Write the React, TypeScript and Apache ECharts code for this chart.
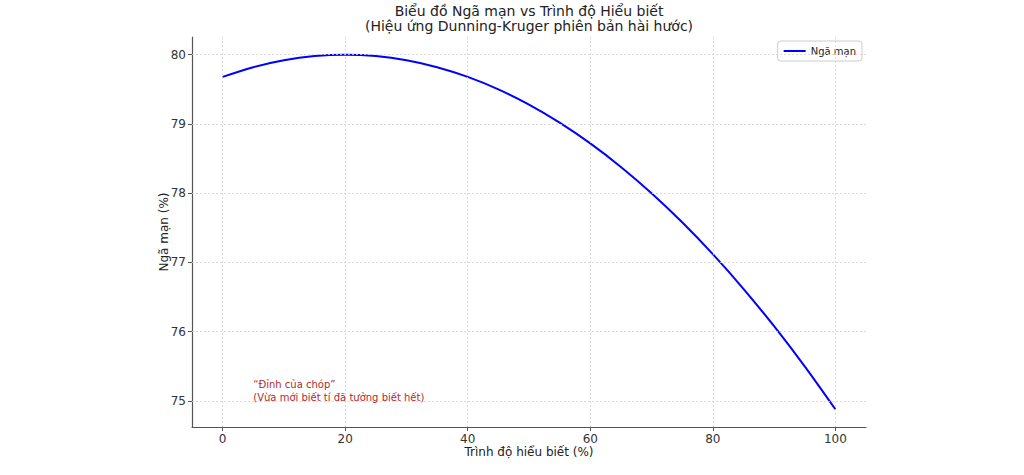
import React, { useEffect, useRef } from "react";
import * as echarts from "echarts";

const knowledge = [0, 5, 10, 15, 20, 25, 30, 35, 40, 45, 50, 55, 60, 65, 70, 75, 80, 85, 90, 95, 100];
const arrogance = [79.68, 79.82, 79.92, 79.98, 80.0, 79.98, 79.92, 79.82, 79.68, 79.5, 79.28, 79.02, 78.72, 78.38, 78.0, 77.58, 77.12, 76.62, 76.08, 75.5, 74.88];
const xTicks = [0, 20, 40, 60, 80, 100];
const yTicks = [75, 76, 77, 78, 79, 80];
const seriesName = "Ngã mạn";
const titleText = "Biểu đồ Ngã mạn vs Trình độ Hiểu biết\n(Hiệu ứng Dunning-Kruger phiên bản hài hước)";
const noteText = "“Đỉnh của chóp”\n(Vừa mới biết tí đã tưởng biết hết)";
const notePoint = [5, 75];

const FONT = "DejaVu Sans";

export default function App() {
  const ref = useRef<HTMLDivElement>(null);
  useEffect(() => {
    if (!ref.current) return;
    const chart = echarts.init(ref.current, null, { renderer: "svg" });
    const gridStyle = { color: "#d4d4d4", type: [2, 2] as any, width: 0.8 };
    chart.setOption({
      animation: false,
      textStyle: { fontFamily: FONT },
      title: {
        text: titleText,
        left: 529,
        top: 3,
        padding: 0,
        textAlign: "center",
        textStyle: { fontFamily: FONT, fontSize: 14, fontWeight: "normal", color: "#222", lineHeight: 15 },
      },
      legend: {
        data: [{ name: seriesName, icon: "rect" }],
        right: 162,
        top: 41,
        itemWidth: 22,
        itemHeight: 2,
        itemGap: 6,
        padding: [5, 6, 5, 6],
        borderColor: "#cccccc",
        borderWidth: 1,
        borderRadius: 3,
        textStyle: { fontFamily: FONT, fontSize: 10, color: "#222" },
      },
      grid: { left: 192, right: 158, top: 37, bottom: 48 },
      xAxis: {
        type: "value",
        min: -5,
        max: 105,
        name: "Trình độ hiểu biết (%)",
        nameLocation: "middle",
        nameMoveOverlap: false,
        nameGap: 19,
        nameTextStyle: { fontFamily: FONT, fontSize: 12, color: "#222" },
        axisLine: { show: true, onZero: false, lineStyle: { color: "#555", width: 1.2 } },
        axisTick: { show: true, customValues: xTicks, length: 4, lineStyle: { color: "#555" } },
        axisLabel: { customValues: xTicks, fontFamily: FONT, fontSize: 12, color: "#333", margin: 6 },
        splitLine: { show: false },
      },
      yAxis: {
        type: "value",
        min: 74.624,
        max: 80.256,
        name: "Ngã mạn (%)",
        nameLocation: "middle",
        nameMoveOverlap: false,
        nameGap: 22,
        nameTextStyle: { fontFamily: FONT, fontSize: 12, color: "#222" },
        axisLine: { show: true, onZero: false, lineStyle: { color: "#555", width: 1.2 } },
        axisTick: { show: true, customValues: yTicks, length: 4, lineStyle: { color: "#555" } },
        axisLabel: { customValues: yTicks, fontFamily: FONT, fontSize: 12, color: "#333", margin: 6 },
        splitLine: { show: false },
      },
      series: [
        {
          name: "grid",
          type: "line",
          data: [],
          z: 0,
          silent: true,
          markLine: {
            silent: true,
            symbol: "none",
            label: { show: false },
            lineStyle: gridStyle,
            data: [...xTicks.map((v) => ({ xAxis: v })), ...yTicks.map((v) => ({ yAxis: v }))],
          },
        },
        {
          name: seriesName,
          type: "line",
          data: knowledge.map((x, i) => [x, arrogance[i]]),
          showSymbol: false,
          smooth: 0.3,
          z: 3,
          lineStyle: { color: "#0000ff", width: 2 },
          itemStyle: { color: "#0000ff" },
          markPoint: {
            symbol: "circle",
            symbolSize: 0,
            silent: true,
            data: [{ coord: notePoint }],
            label: {
              show: true,
              formatter: noteText,
              position: [0, 0],
              offset: [0, 3],
              align: "left",
              verticalAlign: "bottom",
              fontFamily: FONT,
              fontSize: 10,
              lineHeight: 13,
              color: "#b02a30",
            },
          },
        },
      ],
    });
    return () => chart.dispose();
  }, []);
  return <div ref={ref} style={{ position: "absolute", left: 0, top: 0, width: 1024, height: 475 }} />;
}
